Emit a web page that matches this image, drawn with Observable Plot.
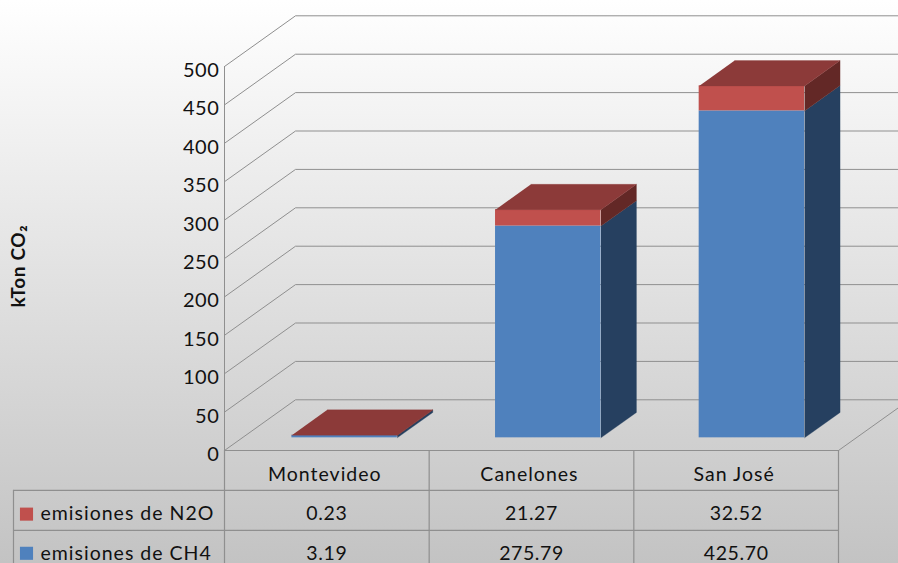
<!DOCTYPE html>
<html>
<head>
<meta charset="utf-8">
<script src="https://cdn.jsdelivr.net/npm/d3@7"></script>
<script src="https://cdn.jsdelivr.net/npm/@observablehq/plot@0.6"></script>
<style>
html,body{margin:0;padding:0;background:#fff;overflow:hidden}
svg{display:block}
</style>
</head>
<body>
<div id="chart"></div>
<script>
const categories = ["Montevideo", "Canelones", "San José"];
const ch4 = [3.19, 275.79, 425.70];
const n2o = [0.23, 21.27, 32.52];
const ch4Label = "emisiones de CH4";
const n2oLabel = "emisiones de N2O";
const yTicks = [0, 50, 100, 150, 200, 250, 300, 350, 400, 450, 500];
const yTitle = "kTon CO₂";

const colors = {
  ch4Front: "#4f81bd", ch4Side: "#264060",
  n2oFront: "#c0504d", n2oSide: "#632826", n2oTop: "#8c3a39"
};

// Oblique 3D: a depth d (0 front, 1 back) shifts x and value equally in data units.
const depthX = 0.347, depthV = 66;
const barW = 0.515, d0 = 0.25, d1 = 0.75, barStep = 0.995;
const xRight = 3.293;
const P = (x, v, d) => ({x: x + d * depthX, y: v + d * depthV});

const poly = (pts, fill) => Plot.line(pts, {x: "x", y: "y", fill, stroke: fill, strokeWidth: 0.3, curve: "linear"});

const wallLines = yTicks.map(t =>
  Plot.line([P(0, t, 0), P(0, t, 1), {x: xRight, y: t + depthV}], {x: "x", y: "y", stroke: "#8f8f8f", strokeWidth: 1})
);

const bars = categories.flatMap((c, i) => {
  const mid = 0.5 + i * barStep;
  const a = mid - barW / 2, b = mid + barW / 2;
  const t1 = ch4[i], t2 = ch4[i] + n2o[i];
  return [
    Plot.rect([{a: P(a, 0, d0), b: P(b, t1, d0)}], {x1: d => d.a.x, x2: d => d.b.x, y1: d => d.a.y, y2: d => d.b.y, fill: colors.ch4Front}),
    poly([P(b, 0, d0), P(b, 0, d1), P(b, t1, d1), P(b, t1, d0)], colors.ch4Side),
    Plot.rect([{a: P(a, t1, d0), b: P(b, t2, d0)}], {x1: d => d.a.x, x2: d => d.b.x, y1: d => d.a.y, y2: d => d.b.y, fill: colors.n2oFront}),
    poly([P(b, t1, d0), P(b, t1, d1), P(b, t2, d1), P(b, t2, d0)], colors.n2oSide),
    poly([P(a, t2, d0), P(b, t2, d0), P(b, t2, d1), P(a, t2, d1)], colors.n2oTop)
  ];
});

// Data table below the axis, in the same data units.
const rowH = 52, tableLeft = -1.031;
const tableStroke = {stroke: "#8f8f8f", strokeWidth: 1.2};
const rowY = [-31, -83, -134];
const labelX = -0.899, swatch = [-0.997, -0.933];
const spaced = (index, scales, values, dims, ctx, next) => {
  const g = next(index, scales, values, dims, ctx);
  g.style.letterSpacing = "1px";
  return g;
};
const labelOpts = {fontSize: 19.5, fill: "#111", render: spaced};
const numberOpts = {fontSize: 19.5, fill: "#111"};

const table = [
  Plot.ruleY([0], {x1: 0, x2: 3, ...tableStroke}),
  Plot.ruleY([-rowH, -2 * rowH], {x1: tableLeft, x2: 3, ...tableStroke}),
  Plot.ruleX([0, 1, 2, 3], {y1: 0, y2: -3 * rowH, ...tableStroke}),
  Plot.ruleX([tableLeft], {y1: -rowH, y2: -3 * rowH, ...tableStroke}),
  Plot.text(categories, {x: (d, i) => i + 0.49, y: rowY[0], text: d => d, ...labelOpts}),
  Plot.text(n2o, {x: (d, i) => i + 0.5, y: rowY[1], text: d => d.toFixed(2), ...numberOpts}),
  Plot.text(ch4, {x: (d, i) => i + 0.5, y: rowY[2], text: d => d.toFixed(2), ...numberOpts}),
  Plot.text([n2oLabel], {x: labelX, y: rowY[1], text: d => d, textAnchor: "start", ...labelOpts}),
  Plot.text([ch4Label], {x: labelX, y: rowY[2], text: d => d, textAnchor: "start", ...labelOpts}),
  Plot.rect([n2oLabel], {x1: swatch[0], x2: swatch[1], y1: rowY[1] + 8, y2: rowY[1] - 9, fill: colors.n2oFront}),
  Plot.rect([ch4Label], {x1: swatch[0], x2: swatch[1], y1: rowY[2] + 8, y2: rowY[2] - 9, fill: colors.ch4Front})
];

const chart = Plot.plot({
  width: 898,
  height: 563,
  marginLeft: 224,
  marginRight: 60,
  marginTop: 66,
  marginBottom: 113,
  x: {type: "linear", domain: [0, 3], axis: null},
  y: {domain: [0, 500], axis: null},
  style: {
    fontFamily: "Lato, sans-serif",
    letterSpacing: "0.6px",
    background: "linear-gradient(to bottom, #ffffff 0%, #c3c3c3 100%)",
    overflow: "hidden"
  },
  marks: [
    ...wallLines,
    Plot.ruleX([0], {y1: 0, y2: 500, stroke: "#8f8f8f", strokeWidth: 1}),
    Plot.line([P(3, 0, 0), P(3, 0, 1)], {x: "x", y: "y", stroke: "#8f8f8f", strokeWidth: 1}),
    ...bars,
    ...table,
    Plot.axisY({anchor: "left", ticks: yTicks, tickSize: 0, tickPadding: 5, label: null, fontSize: 20, dy: 4, fill: "#111", tickFormat: d => String(d)}),
    Plot.text([yTitle], {x: -1.005, y: 240, text: d => d, rotate: -90, fontWeight: "bold", fontSize: 19, fill: "#111"})
  ]
});
document.getElementById("chart").append(chart);
</script>
</body>
</html>
